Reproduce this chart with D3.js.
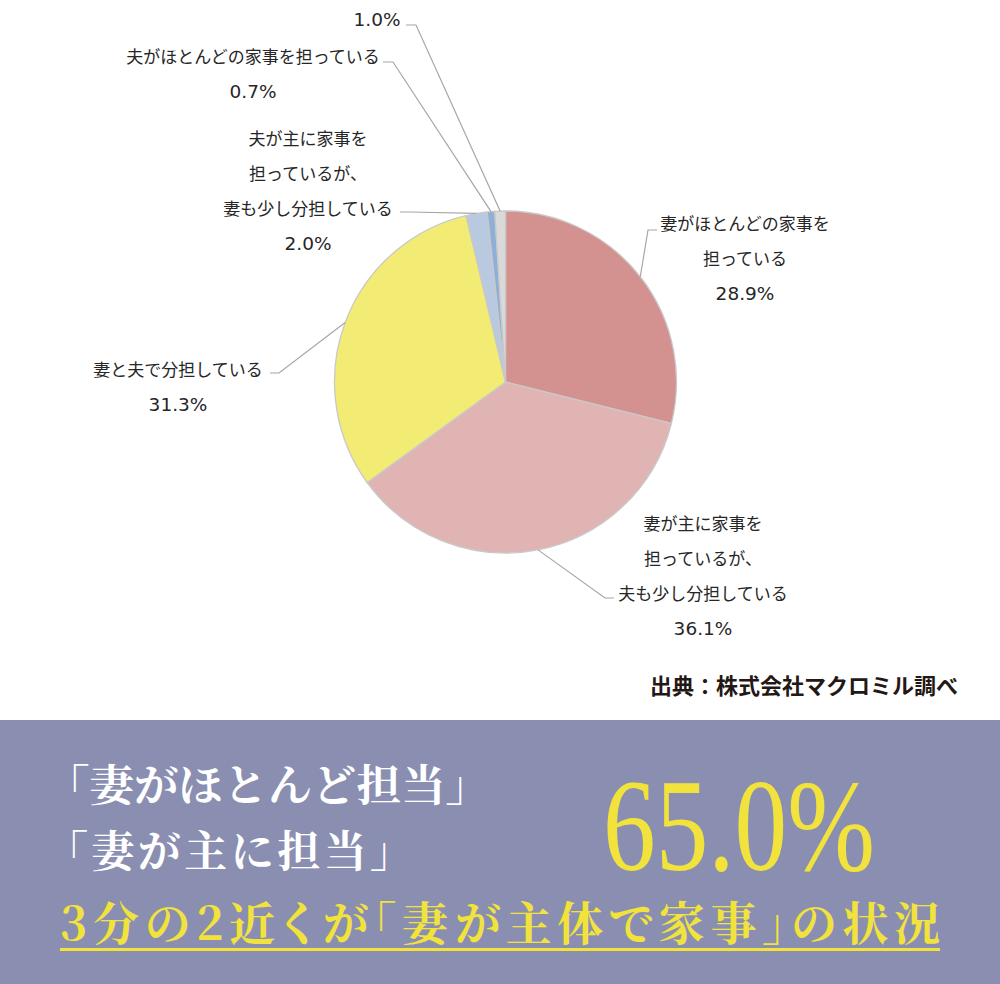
<!DOCTYPE html>
<html><head><meta charset="utf-8">
<script src="https://cdn.jsdelivr.net/npm/d3@7"></script>
<style>
html,body{margin:0;padding:0;background:#fff;}
svg{display:block;}
</style></head>
<body>
<svg id="chart" width="1000" height="984"></svg>
<script>
// ---- data ----
const categories = ["妻がほとんどの家事を担っている","妻が主に家事を担っているが、夫も少し分担している","妻と夫で分担している","夫が主に家事を担っているが、妻も少し分担している","夫がほとんどの家事を担っている","その他"];
const labelLines = [
  ["妻がほとんどの家事を","担っている"],
  ["妻が主に家事を","担っているが、","夫も少し分担している"],
  ["妻と夫で分担している"],
  ["夫が主に家事を","担っているが、","妻も少し分担している"],
  ["夫がほとんどの家事を担っている"],
  []
];
const values = [28.9, 36.1, 31.3, 2.0, 0.7, 1.0];
const sliceColors = ["#D39190","#E1B4B4","#F2EC74","#B8C9E0","#8EAFD8","#D9D9D9"];
const sourceText = "出典：株式会社マクロミル調べ";
const headline1 = "「妻がほとんど担当」";
const headline2 = "「妻が主に担当」";
const headline3 = "3分の2近くが「妻が主体で家事」の状況";
const bigNumber = "65.0%";

// ---- layout ----
const W = 1000, H = 984;
const cx = 505.5, cy = 382, R = 171;
const lineGap = 35;
const labelLayout = [
  {x:745, y:222, elbow:[648,230], end:[657,230]},
  {x:703, y:522, elbow:[605,598], end:[614,598]},
  {x:178, y:368, elbow:[279,373], end:[270,373]},
  {x:308, y:137, elbow:[410,212], end:[400,212]},
  {x:253, y:55,  elbow:[393,62],  end:[383,62]},
  {x:377, y:18,  elbow:[416,25],  end:[406,25]}
];

const svg = d3.select("#chart");
const g = svg.append("g").attr("transform", `translate(${cx},${cy})`);

const pie = d3.pie().sort(null).value(d => d)(values);
const arc = d3.arc().innerRadius(0).outerRadius(R);

g.selectAll("path.slice").data(pie).join("path")
  .attr("class","slice")
  .attr("d", arc)
  .attr("fill", (d,i) => sliceColors[i])
  .attr("stroke", "#C9C9C9")
  .attr("stroke-width", 1.3);

// leader lines
const leaderG = svg.append("g");
pie.forEach((d,i) => {
  const a = (d.startAngle + d.endAngle)/2;
  const p0 = [cx + R*Math.sin(a), cy - R*Math.cos(a)];
  const L = labelLayout[i];
  leaderG.append("polyline")
    .attr("points", [p0, L.elbow, L.end].map(p => p.join(",")).join(" "))
    .attr("fill","none")
    .attr("stroke","#A6A6A6")
    .attr("stroke-width",1.2);
});

// labels
const labelG = svg.append("g")
  .attr("fill", "#262626")
  .attr("text-anchor", "middle");
pie.forEach((d,i) => {
  const L = labelLayout[i];
  const lines = labelLines[i];
  lines.forEach((t,j) => {
    labelG.append("text")
      .attr("x", L.x)
      .attr("y", L.y + j*lineGap)
      .attr("dominant-baseline","central")
      .attr("font-family", "'Noto Sans CJK JP','Noto Sans',sans-serif")
      .attr("font-size", 17)
      .text(t);
  });
  labelG.append("text")
    .attr("x", L.x)
    .attr("y", L.y + lines.length*lineGap + 1)
    .attr("dominant-baseline","central")
    .attr("font-family", "'DejaVu Sans','Noto Sans',sans-serif")
    .attr("font-size", 18.5)
    .text(values[i].toFixed(1) + "%");
});

// source
svg.append("text")
  .attr("x", 958).attr("y", 694)
  .attr("text-anchor","end")
  .attr("font-family","'Noto Sans CJK JP',sans-serif")
  .attr("font-weight","bold")
  .attr("font-size",22)
  .attr("fill","#231815")
  .text(sourceText);

// banner
svg.append("rect").attr("x",0).attr("y",720).attr("width",W).attr("height",H-720).attr("fill","#8A8FB2");

const serif = "'Noto Serif CJK JP','Liberation Serif','Noto Sans CJK JP',serif";
svg.append("text").attr("x",45).attr("y",801)
  .attr("font-family",serif).attr("font-weight","bold").attr("font-size",43)
  .attr("fill","#FFFFFF").attr("textLength",445).attr("lengthAdjust","spacingAndGlyphs")
  .text(headline1);
svg.append("text").attr("x",45).attr("y",867)
  .attr("font-family",serif).attr("font-weight","bold").attr("font-size",43)
  .attr("fill","#FFFFFF").attr("textLength",368).attr("lengthAdjust","spacing")
  .text(headline2);
svg.append("text").attr("x",60).attr("y",940)
  .attr("font-family",serif).attr("font-weight","bold").attr("font-size",46)
  .style("font-feature-settings","'palt'")
  .attr("fill","#F1E33C").attr("textLength",880).attr("lengthAdjust","spacing")
  .text(headline3);
svg.append("rect").attr("x",60).attr("y",948).attr("width",880).attr("height",3).attr("fill","#F1E33C");

svg.append("text").attr("x",603).attr("y",870)
  .attr("font-family","'Liberation Serif','DejaVu Serif',serif")
  .attr("font-size",132)
  .attr("fill","#F1E33C").attr("textLength",272).attr("lengthAdjust","spacingAndGlyphs")
  .text(bigNumber);
</script>
</body></html>
